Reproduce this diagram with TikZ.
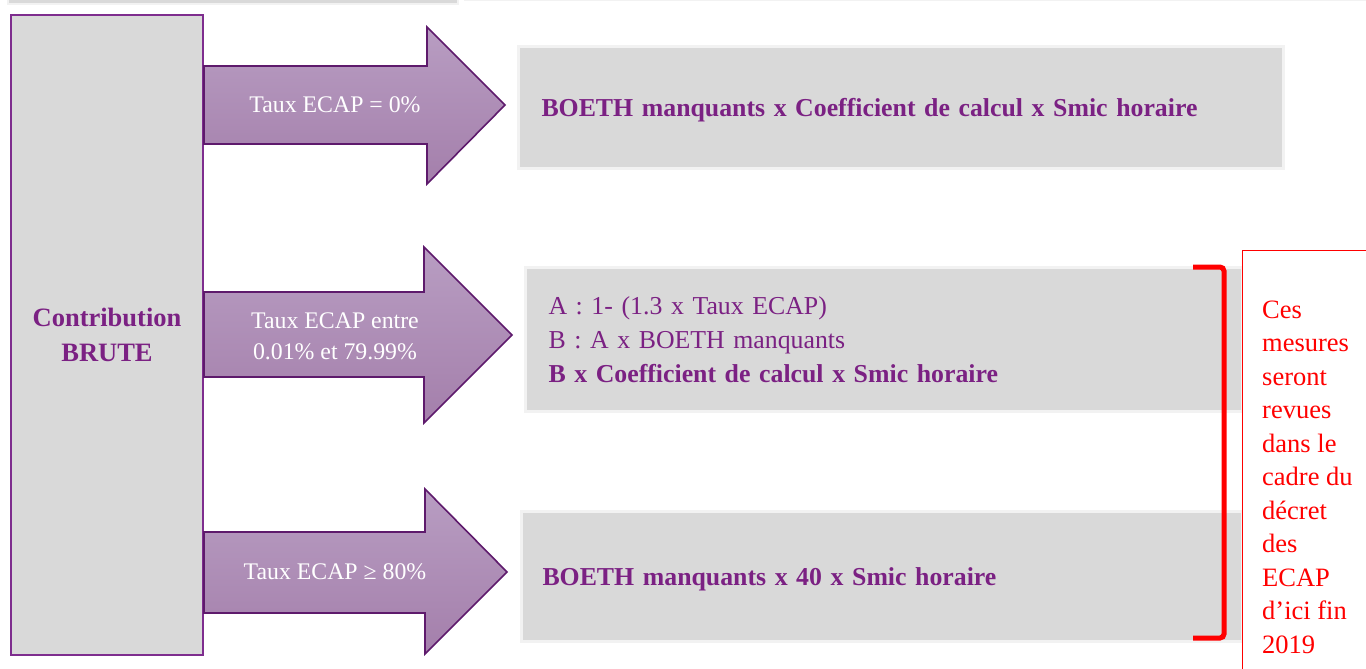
\documentclass[tikz,border=0pt]{standalone}
\usepackage{fontspec}
\setmainfont{Liberation Serif}
\usetikzlibrary{
positioning,
}
\definecolor{prune}{HTML}{7B2183}
\definecolor{cadre}{HTML}{7E2D8E}
\definecolor{flechebord}{HTML}{5E1A6C}
\definecolor{flechehaut}{HTML}{B89DC2}
\definecolor{flechebas}{HTML}{A47FAB}
\definecolor{gris}{HTML}{D9D9D9}
\definecolor{grisclair}{HTML}{F2F2F2}
\tikzset{
every node/.style={align=center},
source/.style={rectangle, draw=cadre, line width=2pt, fill=gris, text=prune,
  font=\bfseries\fontsize{26.5}{35}\selectfont, text depth=0pt},
fleche/.style={draw=flechebord, line width=1.6pt, line join=miter,
  top color=flechehaut, bottom color=flechebas},
taux/.style={text=white, font=\fontsize{23.8}{31}\selectfont, inner sep=0pt},
resultat/.style={rectangle, draw=grisclair, line width=3pt, fill=gris, text=prune,
  align=left, inner xsep=23pt, font=\fontsize{25.8}{34}\selectfont},
note/.style={rectangle, draw=red, line width=1pt, fill=white},
notetexte/.style={text=red, align=left, inner sep=0pt, font=\fontsize{26.5}{33.5}\selectfont},
accolade/.style={draw=red, line width=5pt, rounded corners=4pt},
}

\begin{document}
\begin{tikzpicture}[x=1pt, y=-1pt]
    \useasboundingbox (0,0) rectangle (1366,669);
    % bandes du haut
    \fill[gris, draw=grisclair, line width=2pt] (8,-3) rectangle (458,4);
    \draw[grisclair, line width=1.5pt] (464,0.5) -- (1366,0.5);

    \node [source, anchor=north west, minimum width=192pt, minimum height=640pt] (contrib) at (10,14) {Contribution\\BRUTE};

    % les trois fleches
    \draw [fleche] (204,66) -- (427,66) -- (427,27) -- (505,105) -- (427,184) -- (427,144) -- (204,144) -- cycle;
    \draw [fleche] (204,292) -- (424,292) -- (424,247) -- (512,335) -- (424,423) -- (424,377) -- (204,377) -- cycle;
    \draw [fleche] (204,532) -- (425,532) -- (425,489) -- (507,572) -- (425,654) -- (425,613) -- (204,613) -- cycle;

    \node [taux, anchor=base] (taux1) at (335,113) {Taux ECAP = 0\%};
    \node [taux, text depth=0pt] (taux2) at (335,336) {Taux ECAP entre\\0.01\% et 79.99\%};
    \node [taux, anchor=base] (taux3) at (335,579) {Taux ECAP ≥ 80\%};

    % formules
    \node [resultat, anchor=north west, text width=719pt, minimum height=122pt, text depth=0pt] (calc1) at (517,45)
        {\textbf{BOETH manquants x Coefficient de calcul x Smic horaire}};
    \node [resultat, anchor=north west, text width=671pt, minimum height=144pt] (calc2) at (524,266)
        {A : 1- (1.3 x Taux ECAP)\\B : A x BOETH manquants\\\textbf{B x Coefficient de calcul x Smic horaire}};
    \node [resultat, anchor=north west, text width=679pt, inner xsep=21pt, minimum height=130pt, text depth=0pt] (calc3) at (520,510)
        {\textbf{BOETH manquants x 40 x Smic horaire}};

    % remarque
    \node [note, anchor=north west, minimum width=150pt, minimum height=440pt] (cadre) at (1242,250) {};
    \node [notetexte, below right=50.5pt and 20pt of cadre.north west] (remarque)
        {Ces\\mesures\\seront\\revues\\dans le\\cadre du\\décret\\des\\ECAP\\d’ici fin\\2019};
    \draw [accolade] (1193,267) -- (1224,267) -- (1224,638) -- (1193,638);
\end{tikzpicture}
\end{document}
